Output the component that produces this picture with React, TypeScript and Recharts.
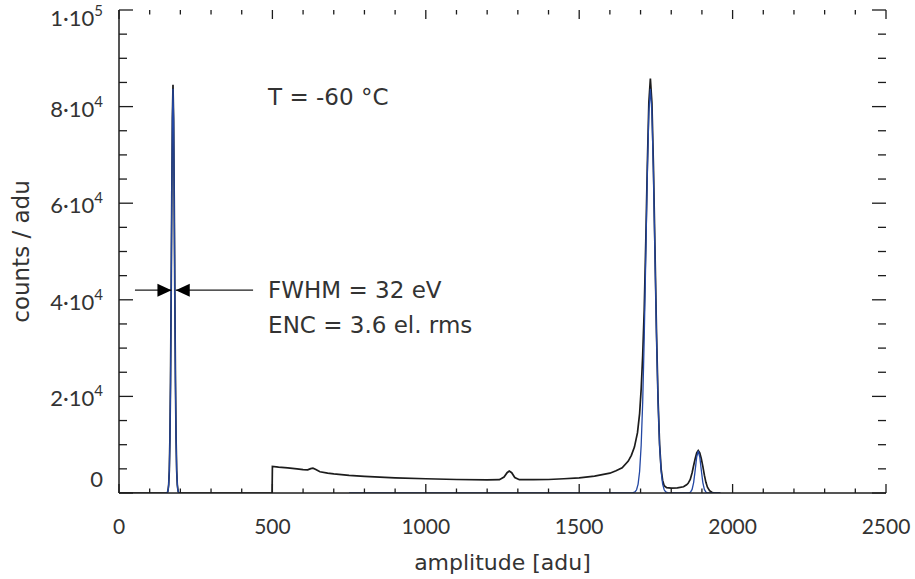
import {
  LineChart,
  Line,
  XAxis,
  YAxis,
  ReferenceLine,
  ReferenceDot,
} from 'recharts'

const INK = '#1c1c1c'
const TEXT = '#333333'
const BLUE = '#2347a3'
const NUM_FONT = 'Lato, "DejaVu Sans", sans-serif'
const FONT = '"DejaVu Sans", sans-serif'

// plot box size (px), used to mirror ticks on the top and right edges
const PLOT_W = 767
const PLOT_H = 483

// measured spectrum (amplitude [adu], counts / adu)
const noisePeak = [
  { a: 0, c: 0 }, { a: 156, c: 0 }, { a: 159, c: 260 }, { a: 162, c: 1700 }, { a: 164, c: 4700 },
  { a: 166, c: 11400 }, { a: 168, c: 23400 }, { a: 170, c: 40900 }, { a: 172, c: 61000 },
  { a: 174, c: 77500 }, { a: 176, c: 84500 }, { a: 178, c: 77500 }, { a: 180, c: 61000 },
  { a: 182, c: 40900 }, { a: 184, c: 23400 }, { a: 186, c: 11400 }, { a: 188, c: 4700 },
  { a: 190, c: 1700 }, { a: 193, c: 260 }, { a: 196, c: 0 }, { a: 499, c: 0 },
]
const continuum = [
  { a: 500, c: 5500 }, { a: 520, c: 5350 }, { a: 550, c: 5200 }, { a: 580, c: 5000 },
  { a: 600, c: 4850 }, { a: 615, c: 4800 }, { a: 625, c: 5050 }, { a: 632, c: 5150 },
  { a: 640, c: 4900 }, { a: 655, c: 4400 }, { a: 680, c: 4100 }, { a: 700, c: 3950 },
  { a: 750, c: 3650 }, { a: 800, c: 3450 }, { a: 900, c: 3150 }, { a: 1000, c: 2950 },
  { a: 1100, c: 2800 }, { a: 1200, c: 2700 }, { a: 1240, c: 2750 }, { a: 1255, c: 3300 },
  { a: 1265, c: 4200 }, { a: 1272, c: 4550 }, { a: 1280, c: 4200 }, { a: 1290, c: 3200 },
  { a: 1305, c: 2750 }, { a: 1350, c: 2750 }, { a: 1400, c: 2800 }, { a: 1450, c: 2950 },
  { a: 1500, c: 3150 }, { a: 1550, c: 3500 }, { a: 1600, c: 4100 }, { a: 1620, c: 4600 },
]
const mainPeak = [
  { a: 1640, c: 5200 }, { a: 1660, c: 6600 }, { a: 1670, c: 7800 }, { a: 1680, c: 9500 },
  { a: 1690, c: 12500 }, { a: 1697, c: 16500 }, { a: 1702, c: 21500 }, { a: 1707, c: 28500 },
  { a: 1712, c: 38000 }, { a: 1717, c: 52000 }, { a: 1722, c: 67600 }, { a: 1727, c: 80800 },
  { a: 1732, c: 85800 }, { a: 1737, c: 80800 }, { a: 1742, c: 67600 }, { a: 1747, c: 50300 },
  { a: 1752, c: 33100 }, { a: 1757, c: 19400 }, { a: 1762, c: 10100 }, { a: 1767, c: 5000 },
  { a: 1772, c: 2600 }, { a: 1777, c: 1500 }, { a: 1785, c: 1100 }, { a: 1800, c: 1000 },
  { a: 1820, c: 1050 }, { a: 1840, c: 1300 }, { a: 1850, c: 1700 },
]
const secondPeak = [
  { a: 1855, c: 2000 }, { a: 1862, c: 2800 }, { a: 1868, c: 4200 }, { a: 1873, c: 5700 },
  { a: 1878, c: 7100 }, { a: 1883, c: 8300 }, { a: 1888, c: 8770 }, { a: 1893, c: 8300 },
  { a: 1898, c: 7100 }, { a: 1903, c: 5500 }, { a: 1908, c: 3700 }, { a: 1913, c: 2200 },
  { a: 1918, c: 1200 }, { a: 1925, c: 500 }, { a: 1932, c: 150 }, { a: 1940, c: 0 },
  { a: 1960, c: 0 },
]
const spectrum = [...noisePeak, ...continuum, ...mainPeak, ...secondPeak]

// gaussian fits
const fitNoise = [
  { a: 150, c: 0 }, { a: 158, c: 100 }, { a: 161, c: 900 }, { a: 164, c: 4500 },
  { a: 166, c: 11000 }, { a: 168, c: 23000 }, { a: 170, c: 40500 }, { a: 172, c: 60500 },
  { a: 174, c: 77000 }, { a: 176, c: 83700 }, { a: 178, c: 77000 }, { a: 180, c: 60500 },
  { a: 182, c: 40500 }, { a: 184, c: 23000 }, { a: 186, c: 11000 }, { a: 188, c: 4500 },
  { a: 191, c: 900 }, { a: 194, c: 100 }, { a: 202, c: 0 },
]
const fitLines = [
  { a: 750, c: 0 }, { a: 1672, c: 0 }, { a: 1682, c: 220 }, { a: 1687, c: 670 },
  { a: 1692, c: 1850 }, { a: 1697, c: 4500 }, { a: 1702, c: 9900 }, { a: 1707, c: 18900 },
  { a: 1712, c: 32300 }, { a: 1717, c: 49000 }, { a: 1722, c: 66000 }, { a: 1727, c: 78800 },
  { a: 1732, c: 83700 }, { a: 1737, c: 78800 }, { a: 1742, c: 66000 }, { a: 1747, c: 49000 },
  { a: 1752, c: 32300 }, { a: 1757, c: 18900 }, { a: 1762, c: 9900 }, { a: 1767, c: 4500 },
  { a: 1772, c: 1850 }, { a: 1777, c: 670 }, { a: 1782, c: 220 }, { a: 1792, c: 0 },
  { a: 1858, c: 0 }, { a: 1863, c: 180 }, { a: 1868, c: 740 }, { a: 1873, c: 2170 },
  { a: 1878, c: 4700 }, { a: 1883, c: 7460 }, { a: 1888, c: 8700 }, { a: 1893, c: 7460 },
  { a: 1898, c: 4700 }, { a: 1903, c: 2170 }, { a: 1908, c: 740 }, { a: 1913, c: 180 },
  { a: 1918, c: 0 }, { a: 1960, c: 0 },
]

const xTicks = Array.from({ length: 26 }, (_, i) => i * 100)
const yTicks = Array.from({ length: 21 }, (_, i) => i * 5000)
const yMajor: Record<number, [string, string]> = {
  0: ['0', ''],
  20000: ['2·10', '4'],
  40000: ['4·10', '4'],
  60000: ['6·10', '4'],
  80000: ['8·10', '4'],
  100000: ['1·10', '5'],
}

const BottomTick = ({ x, y, payload }: any) => {
  const v = payload.value
  const major = v % 500 === 0
  const len = major ? 9 : 4.5
  return (
    <g>
      <line x1={x} x2={x} y1={y} y2={y - len} stroke={INK} strokeWidth={1.3} />
      <line x1={x} x2={x} y1={y - PLOT_H} y2={y - PLOT_H + len} stroke={INK} strokeWidth={1.3} />
      {major && (
        <text x={x} y={y + 41} textAnchor="middle" fontSize={21} fill={TEXT} fontFamily={NUM_FONT}>
          {v}
        </text>
      )}
    </g>
  )
}

const LeftTick = ({ x, y, payload }: any) => {
  const v = payload.value
  const lab = yMajor[v]
  const len = lab ? 14 : 8
  const shift = v === 100000 ? 8 : v === 0 ? -14 : 2
  return (
    <g>
      <line x1={x} x2={x + len} y1={y} y2={y} stroke={INK} strokeWidth={1.3} />
      <line x1={x + PLOT_W} x2={x + PLOT_W - len} y1={y} y2={y} stroke={INK} strokeWidth={1.3} />
      {lab && (
        <text x={x - 16} y={y + shift} dy="0.36em" textAnchor="end" fontSize={22} fill={TEXT} fontFamily={NUM_FONT}>
          <tspan>{lab[0]}</tspan>
          {lab[1] && <tspan dy={-10} fontSize={15}>{lab[1]}</tspan>}
        </text>
      )}
    </g>
  )
}

const arrowShape = (dir: 1 | -1) => (props: any) => {
  const { x1, y1, x2, y2 } = props
  const tip = dir === 1 ? x2 : x1
  return (
    <g>
      <line x1={x1} y1={y1} x2={x2} y2={y2} stroke={INK} strokeWidth={1.2} />
      <polygon
        points={`${tip},${y1} ${tip - dir * 14},${y1 - 6.5} ${tip - dir * 14},${y1 + 6.5}`}
        fill="#000"
      />
    </g>
  )
}

const textShape = (txt: string) => (props: any) => (
  <text x={props.cx} y={props.cy} dy="0.36em" fontSize={23} fill={TEXT} fontFamily={FONT}>
    {txt}
  </text>
)

export default function App() {
  return (
    <div style={{ position: 'absolute', left: 0, top: 0, width: 915, height: 579, background: '#fff' }}>
      <LineChart width={915} height={579} margin={{ top: 10, right: 29, left: 19, bottom: 0 }}>
        <XAxis
          dataKey="a"
          type="number"
          domain={[0, 2500]}
          ticks={xTicks}
          interval={0}
          height={86}
          tickSize={0}
          tickMargin={0}
          tick={<BottomTick />}
          axisLine={{ stroke: INK, strokeWidth: 1.5 }}
          allowDataOverflow
          label={{ value: 'amplitude [adu]', position: 'insideBottom', offset: 9, fontSize: 22, fill: TEXT, fontFamily: FONT }}
        />
        <XAxis
          xAxisId="top"
          orientation="top"
          type="number"
          domain={[0, 2500]}
          height={0}
          tick={false}
          tickLine={false}
          axisLine={{ stroke: INK, strokeWidth: 1.5 }}
        />
        <YAxis
          type="number"
          domain={[0, 100000]}
          ticks={yTicks}
          interval={0}
          width={100}
          tickSize={0}
          tickMargin={0}
          tick={<LeftTick />}
          axisLine={{ stroke: INK, strokeWidth: 1.5 }}
          allowDataOverflow
          label={{ value: 'counts / adu', angle: -90, position: 'insideLeft', offset: 0, dx: 2, fontSize: 23, fill: TEXT, fontFamily: FONT, style: { textAnchor: 'middle' } }}
        />
        <YAxis
          yAxisId="right"
          orientation="right"
          type="number"
          domain={[0, 100000]}
          width={0}
          tick={false}
          tickLine={false}
          axisLine={{ stroke: INK, strokeWidth: 1.5 }}
        />
        <Line data={spectrum} dataKey="c" type="linear" stroke={INK} strokeWidth={1.7} dot={false} isAnimationActive={false} />
        <Line data={fitNoise} dataKey="c" type="linear" stroke={BLUE} strokeWidth={1.3} dot={false} isAnimationActive={false} />
        <Line data={fitLines} dataKey="c" type="linear" stroke={BLUE} strokeWidth={1.3} dot={false} isAnimationActive={false} />
        <ReferenceLine segment={[{ x: 52, y: 42000 }, { x: 171, y: 42000 }]} shape={arrowShape(1)} />
        <ReferenceLine segment={[{ x: 185, y: 42000 }, { x: 437, y: 42000 }]} shape={arrowShape(-1)} />
        <ReferenceDot x={486} y={82000} r={0} shape={textShape('T = -60 °C')} />
        <ReferenceDot x={486} y={42000} r={0} shape={textShape('FWHM = 32 eV')} />
        <ReferenceDot x={486} y={34900} r={0} shape={textShape('ENC = 3.6 el. rms')} />
      </LineChart>
    </div>
  )
}
